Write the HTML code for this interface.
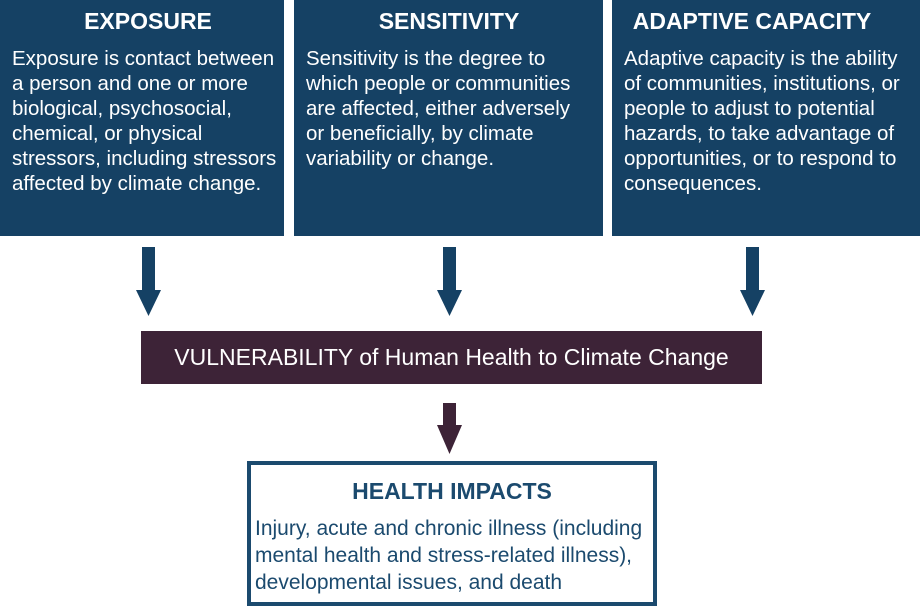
<!DOCTYPE html>
<html><head><meta charset="utf-8"><style>
body{margin:0;width:920px;height:606px;background:#fff;position:relative;overflow:hidden;font-family:"Liberation Sans",Arial,sans-serif}
.box{position:absolute;top:0;height:236px;background:#154164;color:#fff}
.box h2{margin:0;position:absolute;top:8px;width:400px;text-align:center;font-size:23px;font-weight:bold}
.box p{margin:0;position:absolute;top:46px;left:12px;font-size:20.5px;line-height:25px;white-space:nowrap}
.arrow{position:absolute}
#vul{position:absolute;left:141px;top:331px;width:621px;height:53px;background:#3d2337;color:#fff;font-size:23px;line-height:53px;text-align:center}
#hi{position:absolute;left:247px;top:461px;width:402px;height:137px;border:4px solid #1b4a6e;color:#1b4a6e}
#hi h2{margin:0;position:absolute;top:13px;left:0;right:0;text-align:center;font-size:23px;font-weight:bold}
#hi p{margin:0;position:absolute;top:50px;left:4px;font-size:21px;line-height:27px;white-space:nowrap}
</style></head><body>
<div class="box" style="left:0;width:284px"><h2 style="left:-52px">EXPOSURE</h2><p>Exposure is contact between<br>a person and one or more<br>biological, psychosocial,<br>chemical, or physical<br>stressors, including stressors<br>affected by climate change.</p></div>
<div class="box" style="left:294px;width:309px"><h2 style="left:-45px">SENSITIVITY</h2><p>Sensitivity is the degree to<br>which people or communities<br>are affected, either adversely<br>or beneficially, by climate<br>variability or change.</p></div>
<div class="box" style="left:612px;width:308px"><h2 style="left:-60px">ADAPTIVE CAPACITY</h2><p>Adaptive capacity is the ability<br>of communities, institutions, or<br>people to adjust to potential<br>hazards, to take advantage of<br>opportunities, or to respond to<br>consequences.</p></div>
<svg class="arrow" width="920" height="606" style="left:0;top:0">
<polygon fill="#154164" points="142,247 155,247 155,290 161,290 148.5,316 136,290 142,290"/>
<polygon fill="#154164" points="443,247 456,247 456,290 462,290 449.5,316 437,290 443,290"/>
<polygon fill="#154164" points="746,247 759,247 759,290 765,290 752.5,316 740,290 746,290"/>
<polygon fill="#3d2337" points="443,403 456,403 456,425 462,425 449.5,454 437,425 443,425"/>
</svg>
<div id="vul">VULNERABILITY of Human Health to Climate Change</div>
<div id="hi"><h2>HEALTH IMPACTS</h2><p>Injury, acute and chronic illness (including<br>mental health and stress-related illness),<br>developmental issues, and death</p></div>
</body></html>
